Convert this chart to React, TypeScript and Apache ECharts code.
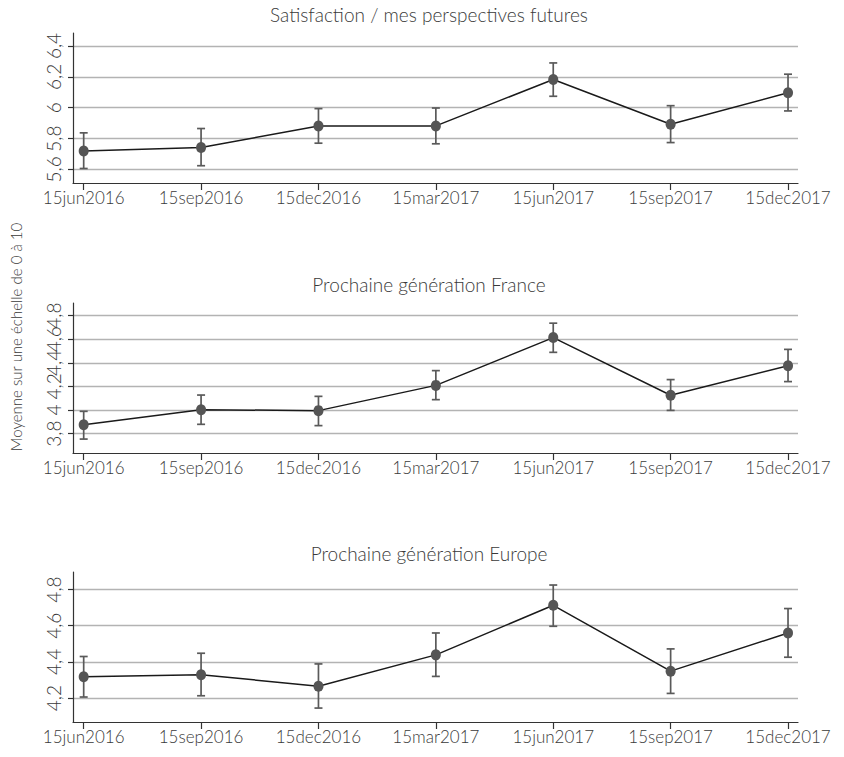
import React, { useEffect, useRef } from 'react';
import * as echarts from 'echarts';

const dateLabels = ['15jun2016', '15sep2016', '15dec2016', '15mar2017', '15jun2017', '15sep2017', '15dec2017'];
const panelTitles = ['Satisfaction / mes perspectives futures', 'Prochaine génération France', 'Prochaine génération Europe'];
const yAxisTitle = 'Moyenne sur une échelle de 0 à 10';

const satMean = [5.72, 5.742, 5.882, 5.882, 6.183, 5.893, 6.097];
const satLow = [5.606, 5.624, 5.77, 5.766, 6.074, 5.774, 5.979];
const satHigh = [5.837, 5.865, 5.994, 5.998, 6.29, 6.013, 6.217];

const frMean = [3.876, 4.003, 3.995, 4.209, 4.614, 4.125, 4.376];
const frLow = [3.754, 3.879, 3.868, 4.088, 4.489, 3.997, 4.241];
const frHigh = [3.989, 4.127, 4.116, 4.334, 4.736, 4.258, 4.514];

const euMean = [4.318, 4.329, 4.266, 4.439, 4.713, 4.349, 4.56];
const euLow = [4.206, 4.213, 4.145, 4.32, 4.597, 4.226, 4.426];
const euHigh = [4.43, 4.448, 4.389, 4.56, 4.825, 4.472, 4.695];

const satTicks = [5.6, 5.8, 6.0, 6.2, 6.4];
const frTicks = [3.8, 4.0, 4.2, 4.4, 4.6, 4.8];
const euTicks = [4.2, 4.4, 4.6, 4.8];

const FONT = 'Lato, "Open Sans", sans-serif';
const TXT = '#3a3a3a';

const panels = [
  { title: panelTitles[0], mean: satMean, low: satLow, high: satHigh, ticks: satTicks, yMin: 5.512, yMax: 6.484, top: 33, titleY: 14 },
  { title: panelTitles[1], mean: frMean, low: frLow, high: frHigh, ticks: frTicks, yMin: 3.636, yMax: 4.907, top: 303, titleY: 284 },
  { title: panelTitles[2], mean: euMean, low: euLow, high: euHigh, ticks: euTicks, yMin: 4.068, yMax: 4.897, top: 572, titleY: 553 },
];

const xIdx = dateLabels.map((_, i) => i);

const fmtY = (v: number) => String(Math.round(v * 10) / 10).replace('.', ',');

export default function App() {
  const ref = useRef<HTMLDivElement>(null);
  useEffect(() => {
    if (!ref.current) return;
    const chart = echarts.init(ref.current, null, { renderer: 'svg' });
    const grids: any[] = [];
    const xAxes: any[] = [];
    const yAxes: any[] = [];
    const series: any[] = [];
    const graphics: any[] = [];
    const labelBase = {
      show: true, rotate: 90, margin: 10, color: TXT, fontFamily: FONT, fontSize: 19, fontWeight: 300,
      hideOverlap: false, formatter: fmtY,
    };
    panels.forEach((p, k) => {
      grids.push({ left: 73, top: p.top, width: 725, height: 150 });
      xAxes.push({
        type: 'value', gridIndex: k, min: -0.091, max: 6.085,
        axisLine: { show: true, onZero: false, lineStyle: { color: '#333', width: 1.2 } },
        axisTick: { show: true, length: 7, customValues: xIdx, lineStyle: { color: '#333', width: 1.2 } },
        axisLabel: {
          show: true, customValues: xIdx, margin: 6, color: TXT, fontFamily: FONT, fontSize: 17, fontWeight: 300,
          hideOverlap: false, showMinLabel: true, showMaxLabel: true,
          formatter: (v: number) => dateLabels[Math.round(v)] ?? '',
        },
        splitLine: { show: false },
      });
      const evenTicks = p.ticks.filter((_, i) => i % 2 === 0);
      const oddTicks = p.ticks.filter((_, i) => i % 2 === 1);
      const mainIndex = yAxes.length;
      yAxes.push({
        type: 'value', gridIndex: k, position: 'left', offset: 0, min: p.yMin, max: p.yMax,
        axisLine: { show: true, onZero: false, lineStyle: { color: '#333', width: 1.2 } },
        axisTick: { show: true, length: 5, customValues: p.ticks, lineStyle: { color: '#333', width: 1.2 } },
        axisLabel: { ...labelBase, customValues: evenTicks },
        splitLine: { show: true, lineStyle: { color: '#b3b3b3', width: 1.3 } },
      });
      yAxes.push({
        type: 'value', gridIndex: k, position: 'left', offset: 0, min: p.yMin, max: p.yMax,
        axisLine: { show: false, onZero: false },
        axisTick: { show: false },
        axisLabel: { ...labelBase, customValues: oddTicks },
        splitLine: { show: false },
      });
      series.push({
        type: 'custom', xAxisIndex: k, yAxisIndex: mainIndex, z: 2,
        data: xIdx.map((i) => [i, p.low[i], p.high[i]]),
        encode: { x: 0, y: [1, 2] },
        renderItem: (params: any, api: any) => {
          const x = api.value(0);
          const lo = api.coord([x, api.value(1)]);
          const hi = api.coord([x, api.value(2)]);
          const style = { stroke: '#5a5a5a', lineWidth: 1.7 };
          return {
            type: 'group',
            children: [
              { type: 'line', shape: { x1: lo[0], y1: lo[1], x2: hi[0], y2: hi[1] }, style },
              { type: 'line', shape: { x1: lo[0] - 4, y1: lo[1], x2: lo[0] + 4, y2: lo[1] }, style },
              { type: 'line', shape: { x1: hi[0] - 4, y1: hi[1], x2: hi[0] + 4, y2: hi[1] }, style },
            ],
          };
        },
      });
      series.push({
        type: 'line', xAxisIndex: k, yAxisIndex: mainIndex, z: 3,
        data: xIdx.map((i) => [i, p.mean[i]]),
        symbol: 'circle', symbolSize: [10, 11], showAllSymbol: true,
        itemStyle: { color: '#555555' },
        lineStyle: { color: '#1a1a1a', width: 1.5 },
        emphasis: { disabled: true },
      });
      graphics.push({
        type: 'text', x: 429, y: p.titleY,
        style: { text: p.title, align: 'center', verticalAlign: 'middle', fill: TXT, font: `300 19px ${FONT}` },
      });
    });
    graphics.push({
      type: 'text', x: 16, y: 337, rotation: Math.PI / 2,
      style: { text: yAxisTitle, align: 'center', verticalAlign: 'middle', fill: TXT, font: `300 15px ${FONT}` },
    });
    chart.setOption({
      animation: false,
      backgroundColor: '#ffffff',
      grid: grids,
      xAxis: xAxes,
      yAxis: yAxes,
      series,
      graphic: graphics,
      tooltip: { show: false },
    });
    return () => chart.dispose();
  }, []);
  return <div ref={ref} style={{ position: 'absolute', left: 0, top: 0, width: 844, height: 757 }} />;
}
